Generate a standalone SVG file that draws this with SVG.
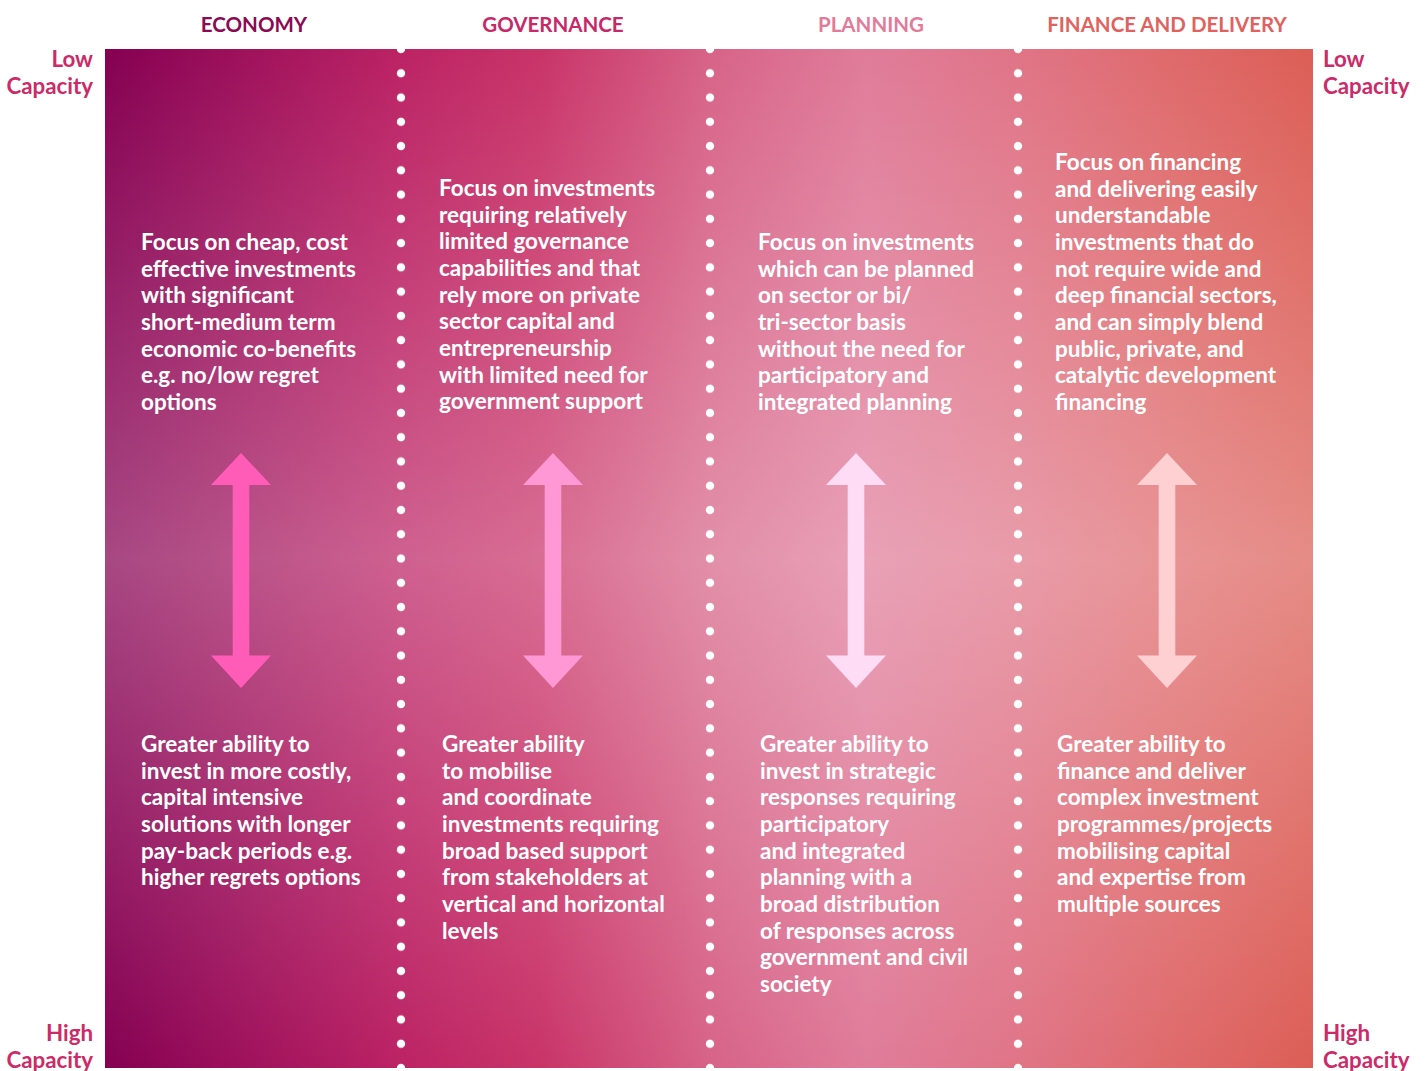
<svg xmlns="http://www.w3.org/2000/svg" width="1426" height="1071" viewBox="0 0 1426 1071">
<defs>
<linearGradient id="bgH" gradientUnits="userSpaceOnUse" x1="105" y1="0" x2="1313" y2="0">
<stop offset="0" stop-color="#850052"/>
<stop offset="0.12" stop-color="#a0125c"/>
<stop offset="0.24" stop-color="#bb2264"/>
<stop offset="0.36" stop-color="#c93468"/>
<stop offset="0.5" stop-color="#d76388"/>
<stop offset="0.63" stop-color="#e07c9a"/>
<stop offset="0.76" stop-color="#e07486"/>
<stop offset="0.88" stop-color="#df6a6c"/>
<stop offset="1" stop-color="#dc5e56"/>
</linearGradient>
<linearGradient id="bgV" gradientUnits="userSpaceOnUse" x1="0" y1="49" x2="0" y2="1068">
<stop offset="0" stop-color="#ffffff" stop-opacity="0"/>
<stop offset="0.5" stop-color="#ffffff" stop-opacity="0.28"/>
<stop offset="1" stop-color="#ffffff" stop-opacity="0"/>
</linearGradient>
<pattern id="dots" patternUnits="userSpaceOnUse" x="0" y="49" width="1426" height="24.262">
<circle cx="401" cy="0" r="4.2" fill="#fff"/><circle cx="401" cy="24.262" r="4.2" fill="#fff"/>
<circle cx="710" cy="0" r="4.2" fill="#fff"/><circle cx="710" cy="24.262" r="4.2" fill="#fff"/>
<circle cx="1018" cy="0" r="4.2" fill="#fff"/><circle cx="1018" cy="24.262" r="4.2" fill="#fff"/>
</pattern>
<path id="arrow" d="M0,-118 L30,-86 L8.3,-86 L8.3,84.5 L30,84.5 L0,117 L-30,84.5 L-8.3,84.5 L-8.3,-86 L-30,-86 Z"/>
</defs>
<style>
.hdr{font-family:"Lato","Liberation Sans",sans-serif;font-weight:700;font-size:20.5px;text-anchor:middle}
.cap{font-family:"Lato","Liberation Sans",sans-serif;font-weight:700;font-size:22.3px;fill:#cc2a68}
.body{font-family:"Lato","Liberation Sans",sans-serif;font-weight:700;font-size:22.5px;fill:#ffffff}
</style>
<rect x="0" y="0" width="1426" height="1071" fill="#ffffff"/>
<g id="background">
<rect x="105" y="49" width="1208" height="1019" fill="url(#bgH)"/>
<rect x="105" y="49" width="1208" height="1019" fill="url(#bgV)"/>
<rect x="105" y="45" width="1208" height="1023" fill="url(#dots)"/>
</g>
<g id="headers">
<text class="hdr" x="254" y="32" fill="#8c0a52">ECONOMY</text>
<text class="hdr" x="553" y="32" fill="#c82868">GOVERNANCE</text>
<text class="hdr" x="871" y="32" fill="#e27a9a">PLANNING</text>
<text class="hdr" x="1167" y="32" fill="#e0625e">FINANCE AND DELIVERY</text>
</g>
<g id="capacity-labels">
<text class="cap" text-anchor="end" x="93" y="67">Low</text>
<text class="cap" text-anchor="end" x="93" y="94">Capacity</text>
<text class="cap" x="1323" y="67">Low</text>
<text class="cap" x="1323" y="94">Capacity</text>
<text class="cap" text-anchor="end" x="93" y="1041">High</text>
<text class="cap" text-anchor="end" x="93" y="1068">Capacity</text>
<text class="cap" x="1323" y="1041">High</text>
<text class="cap" x="1323" y="1068">Capacity</text>
</g>
<g id="connectors">
<use href="#arrow" transform="translate(241,571)" fill="#ff5cb8"/>
<use href="#arrow" transform="translate(553,571)" fill="#ff98d4"/>
<use href="#arrow" transform="translate(856,571)" fill="#ffdcf6"/>
<use href="#arrow" transform="translate(1167,571)" fill="#ffd0d2"/>
</g>
<g id="economy-low">
<text class="body" x="141" y="250"><tspan x="141">Focus on cheap, cost</tspan><tspan x="141" dy="26.67">effective investments</tspan><tspan x="141" dy="26.67">with significant</tspan><tspan x="141" dy="26.67">short-medium term</tspan><tspan x="141" dy="26.67">economic co-benefits</tspan><tspan x="141" dy="26.67">e.g. no/low regret</tspan><tspan x="141" dy="26.67">options</tspan></text>
</g>
<g id="governance-low">
<text class="body" x="439" y="196"><tspan x="439">Focus on investments</tspan><tspan x="439" dy="26.67">requiring relatively</tspan><tspan x="439" dy="26.67">limited governance</tspan><tspan x="439" dy="26.67">capabilities and that</tspan><tspan x="439" dy="26.67">rely more on private</tspan><tspan x="439" dy="26.67">sector capital and</tspan><tspan x="439" dy="26.67">entrepreneurship</tspan><tspan x="439" dy="26.67">with limited need for</tspan><tspan x="439" dy="26.67">government support</tspan></text>
</g>
<g id="planning-low">
<text class="body" x="758" y="250"><tspan x="758">Focus on investments</tspan><tspan x="758" dy="26.67">which can be planned</tspan><tspan x="758" dy="26.67">on sector or bi/</tspan><tspan x="758" dy="26.67">tri-sector basis</tspan><tspan x="758" dy="26.67">without the need for</tspan><tspan x="758" dy="26.67">participatory and</tspan><tspan x="758" dy="26.67">integrated planning</tspan></text>
</g>
<g id="finance-low">
<text class="body" x="1055" y="170"><tspan x="1055">Focus on financing</tspan><tspan x="1055" dy="26.67">and delivering easily</tspan><tspan x="1055" dy="26.67">understandable</tspan><tspan x="1055" dy="26.67">investments that do</tspan><tspan x="1055" dy="26.67">not require wide and</tspan><tspan x="1055" dy="26.67">deep financial sectors,</tspan><tspan x="1055" dy="26.67">and can simply blend</tspan><tspan x="1055" dy="26.67">public, private, and</tspan><tspan x="1055" dy="26.67">catalytic development</tspan><tspan x="1055" dy="26.67">financing</tspan></text>
</g>
<g id="economy-high">
<text class="body" x="141" y="752"><tspan x="141">Greater ability to</tspan><tspan x="141" dy="26.67">invest in more costly,</tspan><tspan x="141" dy="26.67">capital intensive</tspan><tspan x="141" dy="26.67">solutions with longer</tspan><tspan x="141" dy="26.67">pay-back periods e.g.</tspan><tspan x="141" dy="26.67">higher regrets options</tspan></text>
</g>
<g id="governance-high">
<text class="body" x="442" y="752"><tspan x="442">Greater ability</tspan><tspan x="442" dy="26.67">to mobilise</tspan><tspan x="442" dy="26.67">and coordinate</tspan><tspan x="442" dy="26.67">investments requiring</tspan><tspan x="442" dy="26.67">broad based support</tspan><tspan x="442" dy="26.67">from stakeholders at</tspan><tspan x="442" dy="26.67">vertical and horizontal</tspan><tspan x="442" dy="26.67">levels</tspan></text>
</g>
<g id="planning-high">
<text class="body" x="760" y="752"><tspan x="760">Greater ability to</tspan><tspan x="760" dy="26.67">invest in strategic</tspan><tspan x="760" dy="26.67">responses requiring</tspan><tspan x="760" dy="26.67">participatory</tspan><tspan x="760" dy="26.67">and integrated</tspan><tspan x="760" dy="26.67">planning with a</tspan><tspan x="760" dy="26.67">broad distribution</tspan><tspan x="760" dy="26.67">of responses across</tspan><tspan x="760" dy="26.67">government and civil</tspan><tspan x="760" dy="26.67">society</tspan></text>
</g>
<g id="finance-high">
<text class="body" x="1057" y="752"><tspan x="1057">Greater ability to</tspan><tspan x="1057" dy="26.67">finance and deliver</tspan><tspan x="1057" dy="26.67">complex investment</tspan><tspan x="1057" dy="26.67">programmes/projects</tspan><tspan x="1057" dy="26.67">mobilising capital</tspan><tspan x="1057" dy="26.67">and expertise from</tspan><tspan x="1057" dy="26.67">multiple sources</tspan></text>
</g>
</svg>
